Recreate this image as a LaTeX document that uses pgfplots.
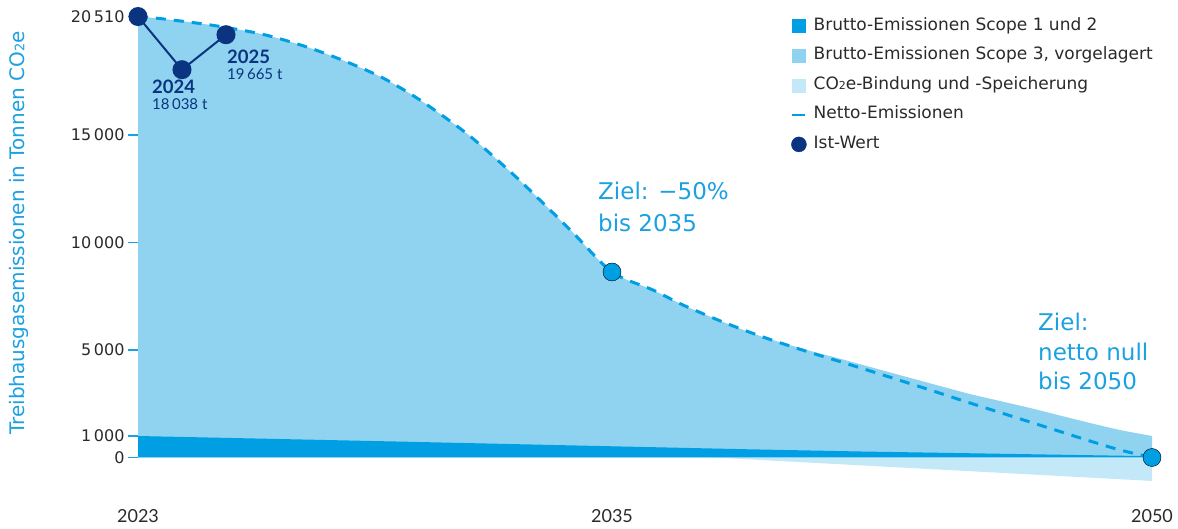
\documentclass[border=0pt]{standalone}
\usepackage{fontspec}
\setmainfont{DejaVu Sans}
\newfontfamily\lato{Lato}
\usepackage{pgfplots}
\usepackage{pgfplotstable}
\pgfplotsset{compat=1.18}
\usepgfplotslibrary{fillbetween}

\definecolor{cdark}{HTML}{009FE3}
\definecolor{cscope}{HTML}{8FD3F0}
\definecolor{cbind}{HTML}{C3E8F8}
\definecolor{cnavy}{HTML}{0A3380}
\definecolor{ctext}{HTML}{2A2A2A}
\definecolor{clabel}{HTML}{1BA1E2}

% x = horizontal position (2023 = 0, 2035 = 474, 2050 = 1014)
\pgfplotstableread{
x y
0 20510
25 20400
75 20100
125 19680
169 19092
209 18395
245 17651
282 16627
322 15307
345 14433
379 13005
405 11835
435 10455
474 8628
515 7790
545 7093
585 6302
625 5604
669 4930
705 4418
745 3837
789 3186
832 2535
862 2093
892 1651
922 1209
952 767
982 349
1014 0
}\netto

\pgfplotstableread{
x y
0 20510
25 20400
75 20100
125 19680
169 19092
209 18395
245 17651
282 16627
322 15307
345 14433
379 13005
405 11835
435 10455
474 8628
515 7790
545 7093
585 6302
625 5604
669 5000
705 4558
745 4046
789 3488
832 2953
862 2628
892 2302
922 1953
952 1605
982 1279
1014 1000
}\gross

\pgfplotstableread{
x y
0 1000
262 740
602 390
722 280
1014 60
}\scopeonetwo

\pgfplotstableread{
x y
576 0
1014 -1090
}\bindung

\pgfplotstableread{
x y
0 20510
44 18038
88 19665
}\ist

\pgfplotstableread{
x y
474 8628
1014 0
}\ziele

\begin{document}
\begin{tikzpicture}
\begin{axis}[
  at={(138bp,39.25bp)}, anchor=south west,
  scale only axis, width=1014bp, height=483.75bp,
  xmin=0, xmax=1014, ymin=-1500, ymax=21000,
  clip=false,
  axis line style={draw=none},
  tick pos=left,
  xtick={0,474,1014}, xticklabels={2023,2035,2050},
  xtick style={draw=none},
  xticklabel style={anchor=center, yshift=-16.25bp, font=\lato\fontsize{18bp}{20bp}\selectfont, text=ctext},
  ytick={1000,5000,10000,15000,20510},
  yticklabels={1\,000,5\,000,10\,000,15\,000,20\,510},
  extra y ticks={0}, extra y tick labels={0},
  extra y tick style={tick style={draw=none}},
  ytick style={draw=clabel, line width=1.2bp},
  tick align=outside,
  major tick length=10bp,
  yticklabel style={font=\fontsize{16bp}{18bp}\selectfont, text=ctext},
  ylabel={Treibhausgasemissionen in Tonnen CO{\fontsize{13bp}{13bp}\selectfont 2}e},
  every axis y label/.style={at={(axis description cs:-0.1174,0.5307)}, rotate=90, anchor=center,
     font=\fontsize{20bp}{22bp}\selectfont, text=clabel},
  legend style={at={(axis description cs:0.641,0.9797)}, anchor=north west, draw=none, fill=none,
     font=\fontsize{17bp}{19bp}\selectfont, text=ctext, row sep=13.6bp, column sep=7bp,
     nodes={inner sep=0pt, text height=12bp, text depth=4bp}},
  legend cell align=left,
]
\addlegendimage{legend image code/.code={\fill[cdark] (0bp,-6.5bp) rectangle (13bp,6.5bp);}}
\addlegendentry{Brutto-Emissionen Scope 1 und 2}
\addlegendimage{legend image code/.code={\fill[cscope] (0bp,-6.5bp) rectangle (13bp,6.5bp);}}
\addlegendentry{Brutto-Emissionen Scope 3, vorgelagert}
\addlegendimage{legend image code/.code={\fill[cbind] (0bp,-6.5bp) rectangle (13bp,6.5bp);}}
\addlegendentry{CO{\fontsize{11bp}{11bp}\selectfont 2}e-Bindung und -Speicherung}
\addlegendimage{legend image code/.code={\draw[cdark, line width=2.5bp] (0bp,0bp) -- (13bp,0bp);}}
\addlegendentry{Netto-Emissionen}
\addlegendimage{legend image code/.code={\fill[cnavy] (6.5bp,0bp) circle (7.5bp);}}
\addlegendentry{Ist-Wert}

\addplot[name path=gross, draw=none, smooth, forget plot] table {\gross};
\addplot[name path=base, draw=none, forget plot] coordinates {(0,0) (1014,0)};
\addplot[name path=dark, draw=none, forget plot] table {\scopeonetwo};
\addplot[name path=bind, draw=none, forget plot] table {\bindung};
\addplot[cscope, forget plot] fill between[of=gross and base];
\addplot[cbind, forget plot] fill between[of=base and bind];
\addplot[cdark, forget plot] fill between[of=dark and base];
\addplot[cdark, line width=3bp, dash pattern=on 10bp off 8bp, smooth, forget plot] table {\netto};
\addplot[cnavy, line width=2bp, mark=*, mark size=8.5bp, mark options={fill=cnavy, draw=none, solid}, forget plot] table {\ist};
\addplot[only marks, mark=*, mark size=9bp, mark options={fill=cdark, draw=none}, forget plot] table {\ziele};
\end{axis}

\node[anchor=base west, inner sep=0, font=\lato\fontsize{18.5bp}{20bp}\selectfont\bfseries, text=cnavy] at (152bp,435.7bp) {2024};
\node[anchor=base west, inner sep=0, font=\lato\fontsize{15bp}{17bp}\selectfont, text=cnavy] at (152bp,419.7bp) {18\,038 t};
\node[anchor=base west, inner sep=0, font=\lato\fontsize{18.5bp}{20bp}\selectfont\bfseries, text=cnavy] at (227bp,465bp) {2025};
\node[anchor=base west, inner sep=0, font=\lato\fontsize{15bp}{17bp}\selectfont, text=cnavy] at (227bp,449bp) {19\,665 t};

\node[anchor=base west, inner sep=0, font=\fontsize{23bp}{26bp}\selectfont, text=clabel] at (598bp,329bp) {Ziel: −50\%};
\node[anchor=base west, inner sep=0, font=\fontsize{23bp}{26bp}\selectfont, text=clabel] at (598bp,297.3bp) {bis 2035};
\node[anchor=base west, inner sep=0, font=\fontsize{23bp}{26bp}\selectfont, text=clabel] at (1038bp,198.3bp) {Ziel:};
\node[anchor=base west, inner sep=0, font=\fontsize{23bp}{26bp}\selectfont, text=clabel] at (1038bp,168.3bp) {netto null};
\node[anchor=base west, inner sep=0, font=\fontsize{23bp}{26bp}\selectfont, text=clabel] at (1038bp,139bp) {bis 2050};

\pgfresetboundingbox
\path[use as bounding box] (0,0) rectangle (1178bp,529bp);
\end{tikzpicture}
\end{document}
